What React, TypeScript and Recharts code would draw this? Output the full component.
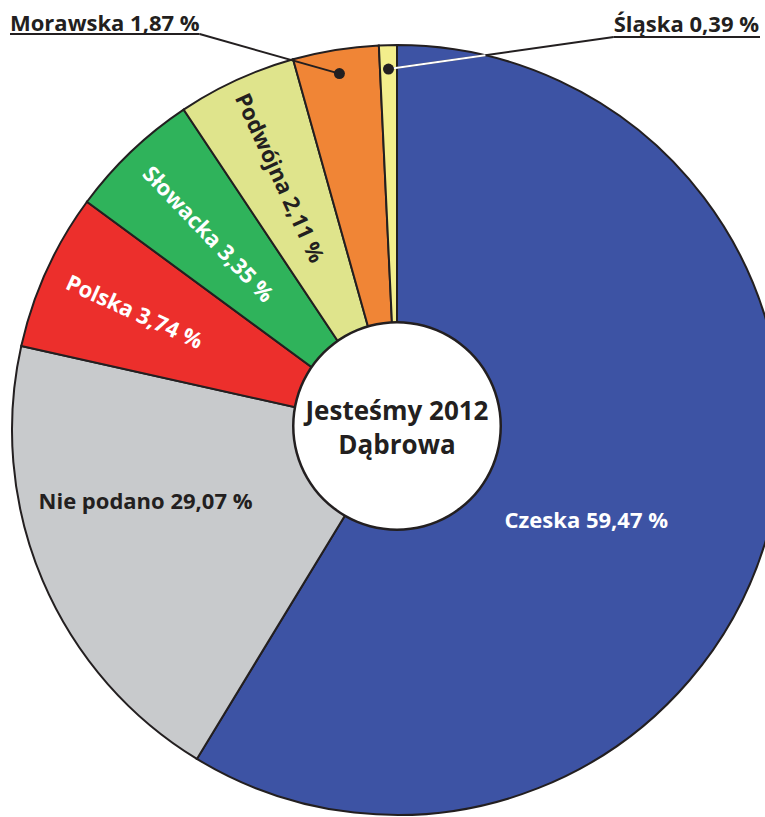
import { PieChart, Pie, Cell } from 'recharts'

// slices, clockwise from 12 o'clock
const categories = ['Czeska', 'Nie podano', 'Polska', 'Słowacka', 'Podwójna', 'Morawska', 'Śląska']
// percentages as printed on the chart
const printed = ['59,47', '29,07', '3,74', '3,35', '2,11', '1,87', '0,39']
// slice sizes as drawn – the artwork does not follow the printed numbers
const drawnShare = [58.7, 19.8, 6.6, 5.55, 5.0, 3.6, 0.75]
const centerLines = ['Jesteśmy 2012', 'Dąbrowa']

const colors = ['#3d53a4', '#c8cacc', '#ec2f2c', '#2fb35b', '#dfe48c', '#f08536', '#f3ee8c']
const INK = '#231f20'
const FONT = '"Open Sans", "Noto Sans", sans-serif'

const W = 765
const H = 817
const CX = 397
const CY = 430
const R = 385

// how each slice gets labelled
type LabelMode =
  | { kind: 'flat'; r: number; shift: number; color: string }
  | { kind: 'radial'; r: number; color: string }
  | { kind: 'callout'; side: 'left' | 'right'; baseline: number; underline: number }

const labelModes: LabelMode[] = [
  { kind: 'flat', r: 209, shift: 9.4, color: '#fff' },
  { kind: 'flat', r: 261, shift: 7.5, color: INK },
  { kind: 'radial', r: 288, color: '#fff' },
  { kind: 'radial', r: 272, color: '#fff' },
  { kind: 'radial', r: 278, color: INK },
  { kind: 'callout', side: 'left', baseline: 31, underline: 34 },
  { kind: 'callout', side: 'right', baseline: 32, underline: 37 },
]

const pieData = categories.map((name, i) => ({
  name,
  value: drawnShare[i],
  text: `${name} ${printed[i]} %`,
}))

const RAD = Math.PI / 180
const polar = (cx: number, cy: number, r: number, angle: number) => ({
  x: cx + r * Math.cos(-angle * RAD),
  y: cy + r * Math.sin(-angle * RAD),
})

let ctx: CanvasRenderingContext2D | null = null
function textWidth(s: string, size: number) {
  if (!ctx) ctx = document.createElement('canvas').getContext('2d')
  if (!ctx) return s.length * size * 0.55
  ctx.font = `700 ${size}px ${FONT}`
  return ctx.measureText(s).width
}

// where the segment p0 -> p1 enters the circle
function enterCircle(p0: any, p1: any, cx: number, cy: number, r: number) {
  const dx = p1.x - p0.x
  const dy = p1.y - p0.y
  const fx = p0.x - cx
  const fy = p0.y - cy
  const a = dx * dx + dy * dy
  const b = 2 * (fx * dx + fy * dy)
  const c = fx * fx + fy * fy - r * r
  const disc = b * b - 4 * a * c
  if (disc < 0) return p1
  const t = (-b - Math.sqrt(disc)) / (2 * a)
  return { x: p0.x + t * dx, y: p0.y + t * dy }
}

const SIZE = 22

function renderSliceLabel(props: any) {
  const { cx, cy, midAngle, outerRadius, index } = props
  const mode = labelModes[index]
  const text = pieData[index].text

  if (mode.kind === 'flat') {
    const p = polar(cx, cy, mode.r, midAngle - mode.shift)
    return (
      <text key={index} x={p.x} y={p.y} fill={mode.color} fontSize={SIZE} fontWeight={700}
        fontFamily={FONT} textAnchor="middle" dominantBaseline="central">
        {text}
      </text>
    )
  }

  if (mode.kind === 'radial') {
    const p = polar(cx, cy, mode.r, midAngle)
    const rot = 180 - midAngle
    return (
      <text key={index} x={p.x} y={p.y} fill={mode.color} fontSize={SIZE} fontWeight={700}
        fontFamily={FONT} textAnchor="middle" dominantBaseline="central"
        transform={`rotate(${rot}, ${p.x}, ${p.y})`}>
        {text}
      </text>
    )
  }

  // callout with underline + leader to a dot
  const dot = polar(cx, cy, outerRadius - 24, midAngle)
  const w = textWidth(text, SIZE)
  const left = mode.side === 'left'
  const tx = left ? 10 : W - 6
  const ux0 = left ? tx : tx - w
  const ux1 = left ? tx + w : tx + 1
  const start = { x: left ? ux1 : ux0, y: mode.underline }
  const edge = enterCircle(start, dot, cx, cy, outerRadius)
  return (
    <g key={index}>
      <text x={tx} y={mode.baseline} fill={INK} fontSize={SIZE} fontWeight={700}
        fontFamily={FONT} textAnchor={left ? 'start' : 'end'}>
        {text}
      </text>
      <line x1={ux0} y1={mode.underline} x2={ux1} y2={mode.underline} stroke={INK} strokeWidth={2} />
      <line x1={start.x} y1={start.y} x2={dot.x} y2={dot.y} stroke={INK} strokeWidth={2} />
      {!left && (
        <line x1={edge.x} y1={edge.y} x2={dot.x} y2={dot.y} stroke="#fff" strokeWidth={2} />
      )}
      <circle cx={dot.x} cy={dot.y} r={5.5} fill={INK} />
    </g>
  )
}

function renderCenter(props: any) {
  const { cx, cy } = props
  return (
    <text key="center" x={cx} fill={INK} fontSize={26} fontWeight={700} fontFamily={FONT}
      textAnchor="middle" dominantBaseline="central">
      {centerLines.map((line, i) => (
        <tspan key={i} x={cx} y={cy - 16 + i * 34}>{line}</tspan>
      ))}
    </text>
  )
}

export default function App() {
  return (
    <div style={{ position: 'absolute', left: 0, top: 0, width: W, height: H, overflow: 'hidden', background: '#fff' }}>
      <PieChart width={W} height={H} margin={{ top: 0, right: 0, bottom: 0, left: 0 }}>
        <Pie
          data={pieData}
          dataKey="value"
          nameKey="name"
          cx={CX}
          cy={CY}
          outerRadius={R}
          startAngle={90}
          endAngle={-270}
          stroke={INK}
          strokeWidth={2}
          label={renderSliceLabel}
          labelLine={false}
          isAnimationActive={false}
        >
          {pieData.map((d, i) => (
            <Cell key={d.name} fill={colors[i]} />
          ))}
        </Pie>
        <Pie
          data={[{ name: 'hub', value: 1 }]}
          dataKey="value"
          cx={CX}
          cy={CY - 4}
          outerRadius={104}
          stroke="none"
          fill="#fff"
          label={renderCenter}
          labelLine={false}
          isAnimationActive={false}
        />
        <Pie
          data={[{ name: 'hub ring', value: 1 }]}
          dataKey="value"
          cx={CX}
          cy={CY - 4}
          innerRadius={102.5}
          outerRadius={105}
          stroke="none"
          fill={INK}
          isAnimationActive={false}
        />
      </PieChart>
    </div>
  )
}
